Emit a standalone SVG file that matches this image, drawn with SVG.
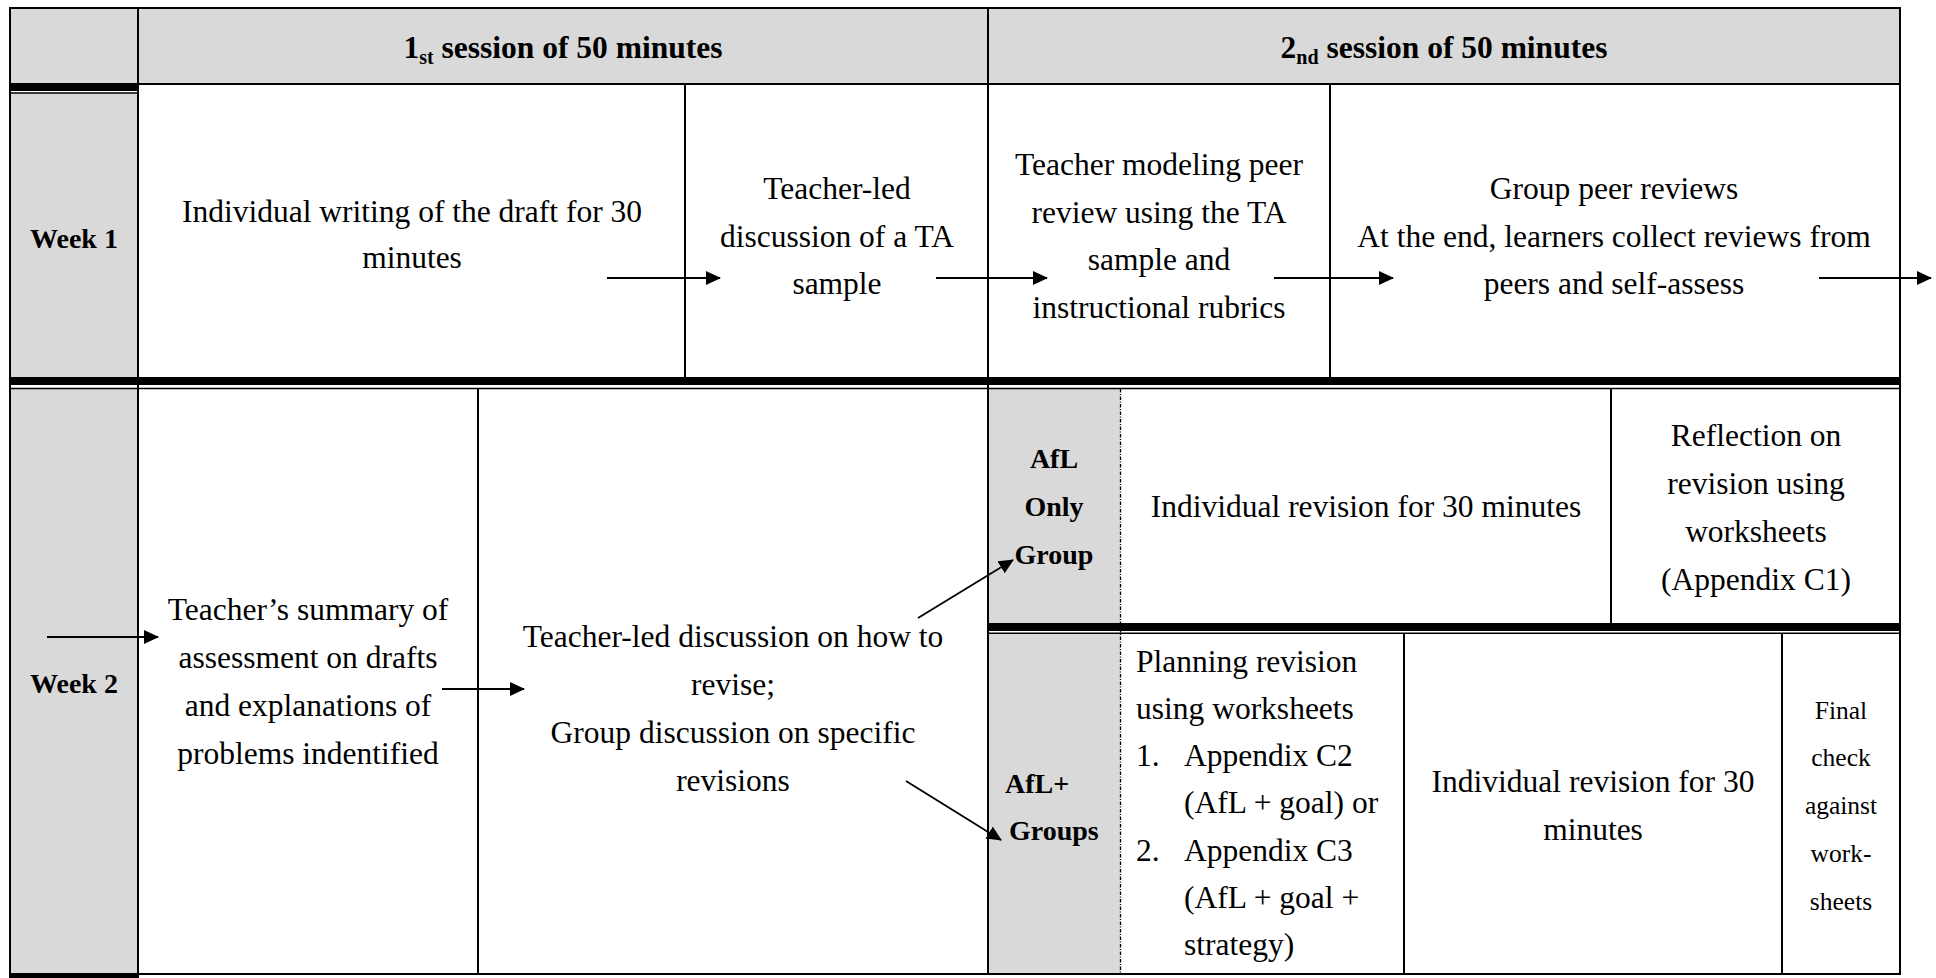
<svg xmlns="http://www.w3.org/2000/svg" width="1936" height="978" viewBox="0 0 1936 978">
<defs>
<style>
.g{fill:#d9d9d9}
.ln{stroke:#000;stroke-width:2;fill:none}
.tn{stroke:#000;stroke-width:1.5;fill:none}
.thk{fill:#000}
.t{font-family:"Liberation Serif","Times New Roman",serif;font-size:31.5px;fill:#000;text-anchor:middle}
.b{font-weight:bold;font-size:28px}
.h{font-weight:bold;font-size:31.5px}
.s{font-size:25.5px}
.l{text-anchor:start}
.dash{stroke:#000;stroke-width:1.3;stroke-dasharray:3.5 1.5 1 1.5;fill:none}
.arr{stroke:#000;stroke-width:1.8;fill:none;marker-end:url(#ah)}
</style>
<marker id="ah" markerUnits="userSpaceOnUse" viewBox="0 0 15 14" refX="14" refY="7" markerWidth="15" markerHeight="14" orient="auto">
<path d="M0,0 L15,7 L0,14 z" fill="#000"/>
</marker>
</defs>
<rect x="0" y="0" width="1936" height="978" fill="#fff"/>

<g id="fills">
<rect class="g" x="10" y="8" width="128" height="76"/>
<rect class="g" x="138" y="8" width="1762" height="76"/>
<rect class="g" x="10" y="93" width="128" height="284"/>
<rect class="g" x="10" y="389" width="128" height="585"/>
<rect class="g" x="988" y="389" width="132" height="234"/>
<rect class="g" x="988" y="634" width="132" height="340"/>
</g>

<g id="table-lines">
<line class="ln" x1="9" y1="8" x2="1901" y2="8"/>
<line class="ln" x1="10" y1="7" x2="10" y2="978"/>
<line class="ln" x1="1900" y1="7" x2="1900" y2="975"/>
<line class="ln" x1="138" y1="84" x2="1900" y2="84"/>
<rect class="thk" x="10" y="83" width="128" height="8"/>
<line class="tn" x1="10" y1="93" x2="138" y2="93"/>
<line class="ln" x1="138" y1="8" x2="138" y2="978"/>
<line class="ln" x1="988" y1="8" x2="988" y2="974"/>
<line class="ln" x1="685" y1="84" x2="685" y2="377"/>
<line class="ln" x1="1330" y1="84" x2="1330" y2="377"/>
<rect class="thk" x="10" y="377" width="1891" height="8"/>
<line class="tn" x1="10" y1="388.5" x2="1901" y2="388.5"/>
<line class="ln" x1="478" y1="389" x2="478" y2="974"/>
<line class="ln" x1="1611" y1="389" x2="1611" y2="623"/>
<rect class="thk" x="988" y="623" width="913" height="8"/>
<line class="tn" x1="988" y1="633.3" x2="1901" y2="633.3"/>
<line class="ln" x1="1404" y1="634" x2="1404" y2="974"/>
<line class="ln" x1="1782" y1="634" x2="1782" y2="974"/>
<line class="dash" x1="1120.5" y1="389" x2="1120.5" y2="974"/>
<line class="ln" x1="138" y1="974" x2="1901" y2="974"/>
<rect class="thk" x="9" y="973" width="130" height="5"/>
</g>

<g id="header-session1">
<text class="t h" x="563" y="58">1<tspan font-size="20" dy="6">st</tspan><tspan dy="-6"> session of 50 minutes</tspan></text>
</g>
<g id="header-session2">
<text class="t h" x="1444" y="58">2<tspan font-size="20" dy="6">nd</tspan><tspan dy="-6"> session of 50 minutes</tspan></text>
</g>

<g id="week1-label"><text class="t b" x="74" y="248">Week 1</text></g>
<g id="individual-writing">
<text class="t" x="412" y="222">Individual writing of the draft for 30</text>
<text class="t" x="412" y="268">minutes</text>
</g>
<g id="teacher-led-ta">
<text class="t" x="837" y="199">Teacher-led</text>
<text class="t" x="837" y="246.5">discussion of a TA</text>
<text class="t" x="837" y="294">sample</text>
</g>
<g id="teacher-modeling">
<text class="t" x="1159" y="175">Teacher modeling peer</text>
<text class="t" x="1159" y="222.5">review using the TA</text>
<text class="t" x="1159" y="270">sample and</text>
<text class="t" x="1159" y="317.5">instructional rubrics</text>
</g>
<g id="group-peer-reviews">
<text class="t" x="1614" y="199">Group peer reviews</text>
<text class="t" x="1614" y="246.5">At the end, learners collect reviews from</text>
<text class="t" x="1614" y="294">peers and self-assess</text>
</g>

<g id="week2-label"><text class="t b" x="74" y="693">Week 2</text></g>
<g id="teacher-summary">
<text class="t" x="308" y="620">Teacher’s summary of</text>
<text class="t" x="308" y="668">assessment on drafts</text>
<text class="t" x="308" y="716">and explanations of</text>
<text class="t" x="308" y="764">problems indentified</text>
</g>
<g id="teacher-led-revise">
<text class="t" x="733" y="647">Teacher-led discussion on how to</text>
<text class="t" x="733" y="695">revise;</text>
<text class="t" x="733" y="743">Group discussion on specific</text>
<text class="t" x="733" y="791">revisions</text>
</g>
<g id="afl-only-group">
<text class="t b" x="1054" y="468">AfL</text>
<text class="t b" x="1054" y="516">Only</text>
<text class="t b" x="1054" y="564">Group</text>
</g>
<g id="afl-only-revision">
<text class="t" x="1366" y="517">Individual revision for 30 minutes</text>
</g>
<g id="afl-only-reflection">
<text class="t" x="1756" y="446">Reflection on</text>
<text class="t" x="1756" y="494">revision using</text>
<text class="t" x="1756" y="542">worksheets</text>
<text class="t" x="1756" y="590">(Appendix C1)</text>
</g>
<g id="afl-plus-groups">
<text class="t b l" x="1005" y="793">AfL+</text>
<text class="t b l" x="1009" y="840">Groups</text>
</g>
<g id="afl-plus-planning">
<text class="t l" x="1136" y="672">Planning revision</text>
<text class="t l" x="1136" y="719">using worksheets</text>
<text class="t l" x="1136" y="766">1.</text>
<text class="t l" x="1184" y="766">Appendix C2</text>
<text class="t l" x="1184" y="813">(AfL + goal) or</text>
<text class="t l" x="1136" y="861">2.</text>
<text class="t l" x="1184" y="861">Appendix C3</text>
<text class="t l" x="1184" y="908">(AfL + goal +</text>
<text class="t l" x="1184" y="955">strategy)</text>
</g>
<g id="afl-plus-revision">
<text class="t" x="1593" y="792">Individual revision for 30</text>
<text class="t" x="1593" y="840">minutes</text>
</g>
<g id="afl-plus-final-check">
<text class="t s" x="1841" y="719">Final</text>
<text class="t s" x="1841" y="766">check</text>
<text class="t s" x="1841" y="814">against</text>
<text class="t s" x="1841" y="862">work-</text>
<text class="t s" x="1841" y="910">sheets</text>
</g>

<g id="connectors">
<line class="arr" x1="607" y1="278" x2="720" y2="278"/>
<line class="arr" x1="936" y1="278" x2="1047" y2="278"/>
<line class="arr" x1="1274" y1="278" x2="1393" y2="278"/>
<line class="arr" x1="1819" y1="278" x2="1931" y2="278"/>
<line class="arr" x1="47" y1="637" x2="158" y2="637"/>
<line class="arr" x1="442" y1="689" x2="524" y2="689"/>
<line class="arr" x1="918" y1="618" x2="1013" y2="560"/>
<line class="arr" x1="906" y1="781" x2="1001" y2="840"/>
</g>
</svg>
